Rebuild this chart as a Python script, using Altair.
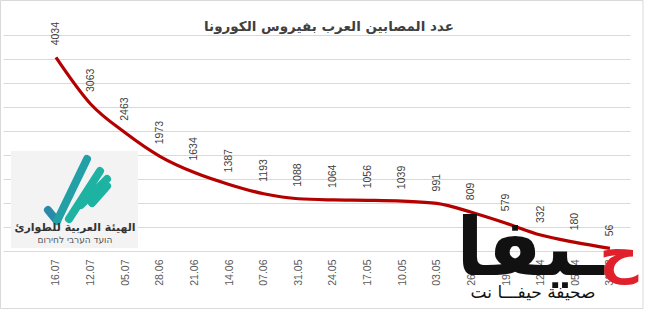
import altair as alt
import pandas as pd

# ---- data ----
dates = ["16.07", "12.07", "05.07", "28.06", "21.06", "14.06", "07.06", "31.05",
         "24.05", "17.05", "10.05", "03.05", "26.04", "19.04", "12.04", "05.04", "31.03"]
cases = [4034, 3063, 2463, 1973, 1634, 1387, 1193, 1088,
         1064, 1056, 1039, 991, 809, 579, 332, 180, 56]
title_text = "عدد المصابين العرب بفيروس الكورونا"
logo1_ar = "الهيئة العربية للطوارئ"
logo1_he = "הועד הערבי לחירום"
logo2_main = "ـيفا"
logo2_red = "ح"
logo2_sub = "صحيفة حيفـــا نت"

df = pd.DataFrame({"idx": list(range(len(dates))), "date": dates, "cases": cases})
one = pd.DataFrame({"a": [0]})

W, H = 627, 216
label_expr = "[" + ",".join("'%s'" % d for d in dates) + "][datum.value]"

x_enc = alt.X("idx:Q",
              scale=alt.Scale(domain=[-1.53, 16.58], nice=False, zero=False),
              axis=alt.Axis(values=list(range(len(dates))), tickCount=40,
                            labelExpr=label_expr,
                            labelAngle=270, labelAlign="right", labelBaseline="middle",
                            labelPadding=8, labelOverlap=False, ticks=False,
                            domain=False, grid=False,
                            labelFont="Liberation Sans", labelFontSize=10.5,
                            labelColor="#595959", title=None))
y_enc = alt.Y("cases:Q",
              scale=alt.Scale(domain=[0, 4500], nice=False),
              axis=alt.Axis(values=list(range(0, 4501, 500)), tickCount=40,
                            labels=False, ticks=False,
                            domain=False, grid=True, gridColor="#d9d9d9", gridWidth=1,
                            title=None))

line = alt.Chart(df).mark_line(color="#b50000", strokeWidth=3.2,
                               interpolate="monotone").encode(x=x_enc, y=y_enc)

labels = alt.Chart(df).mark_text(angle=270, align="left", baseline="middle", dx=12,
                                 font="Liberation Sans", fontSize=10.5,
                                 color="#404040").encode(
    x="idx:Q", y="cases:Q", text="cases:Q")

border = alt.Chart(one).mark_rect(fill=None, stroke="#d9d9d9", strokeWidth=1).encode(
    x=alt.value(-2.5), x2=alt.value(640), y=alt.value(-34.5), y2=alt.value(273.5))

title = alt.Chart(one).mark_text(font="DejaVu Sans", fontSize=13.5, fontWeight="bold",
                                 color="#404040", baseline="middle").encode(
    x=alt.value(326), y=alt.value(-8), text=alt.value(title_text))

# logo 1 (emergency authority)
box = alt.Chart(one).mark_rect(fill="#f3f3f3").encode(
    x=alt.value(8), x2=alt.value(135), y=alt.value(116), y2=alt.value(213))
stripes_df = pd.DataFrame({
    "x1": [45, 54, 66, 78, 89],
    "y1": [175, 186, 184, 170, 168],
    "x2": [54, 84, 97, 104, 104],
    "y2": [186, 124, 136, 144, 151],
    "c": ["#2a8aa8", "#22a0a6", "#1db2a2", "#1db2a2", "#1db2a2"],
})
stripes = alt.Chart(stripes_df).mark_rule(strokeWidth=8, strokeCap="round").encode(
    x=alt.X("x1:Q", scale=None), y=alt.Y("y1:Q", scale=None),
    x2="x2:Q", y2="y2:Q", color=alt.Color("c:N", scale=None))
logo1a = alt.Chart(one).mark_text(font="DejaVu Sans", fontSize=11, fontWeight="bold",
                                  color="#333333").encode(
    x=alt.value(72), y=alt.value(193), text=alt.value(logo1_ar))
logo1b = alt.Chart(one).mark_text(font="DejaVu Sans", fontSize=9,
                                  color="#555555").encode(
    x=alt.value(72), y=alt.value(205), text=alt.value(logo1_he))

# logo 2 (Haifa net)
logo2a = alt.Chart(one).mark_text(font="DejaVu Sans", fontSize=80, fontWeight="bold",
                                  color="#111111", baseline="alphabetic").encode(
    x=alt.value(527), y=alt.value(240), text=alt.value(logo2_main))
logo2b = alt.Chart(one).mark_text(font="DejaVu Sans", fontSize=54, fontWeight="bold",
                                  color="#e0202a", baseline="alphabetic").encode(
    x=alt.value(616), y=alt.value(237), text=alt.value(logo2_red))
logo2c = alt.Chart(one).mark_text(font="DejaVu Sans", fontSize=17,
                                  color="#111111").encode(
    x=alt.value(530), y=alt.value(258), text=alt.value(logo2_sub))

chart = alt.layer(border, title, line, labels, box, stripes, logo1a, logo1b,
                  logo2a, logo2b, logo2c).properties(
    width=W, height=H,
    autosize=alt.AutoSizeParams(type="none"),
    padding={"left": 3, "top": 35, "right": 16, "bottom": 58},
    background="white",
).configure_view(stroke=None)

chart.save("out.html", embed_options={"renderer": "svg", "actions": False})
